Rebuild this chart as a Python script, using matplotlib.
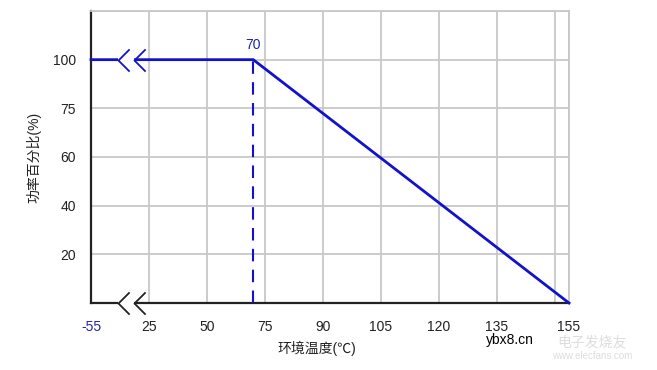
import numpy as np
import matplotlib
matplotlib.use('Agg')
import matplotlib.pyplot as plt
import matplotlib.transforms as mtrans
from matplotlib.path import Path

plt.rcParams['font.family'] = ['Liberation Sans', 'Noto Sans CJK SC', 'DejaVu Sans']

# derating curve
temp = [-55, 70, 155]
power = [100, 100, 0]
knee_temp = 70

# axis tick values (the chart uses an uneven, piecewise scale)
x_ticks = [-55, 25, 50, 75, 90, 105, 120, 135, 150, 155]
x_labels = ['-55', '25', '50', '75', '90', '105', '120', '135', '', '155']
x_pos = [0, 1, 2, 3, 4, 5, 6, 7, 8, 8.25]
y_ticks = [0, 20, 40, 60, 75, 100, 125]
y_labels = ['', '20', '40', '60', '75', '100', '']
y_pos = [0, 1, 2, 3, 4, 5, 6]

blue = '#1212CC'
grid_c = '#C8C8C8'

fig = plt.figure(figsize=(6.57, 3.70), dpi=100)
ax = fig.add_axes([91/657, 1-303/370, 478/657, 292/370])

ax.set_xscale('function', functions=(lambda v: np.interp(v, x_ticks, x_pos),
                                     lambda p: np.interp(p, x_pos, x_ticks)))
ax.set_yscale('function', functions=(lambda v: np.interp(v, y_ticks, y_pos),
                                     lambda p: np.interp(p, y_pos, y_ticks)))
ax.set_xlim(x_ticks[0], x_ticks[-1])
ax.set_ylim(y_ticks[0], y_ticks[-1])

ax.set_xticks(x_ticks)
ax.set_xticklabels(x_labels)
ax.set_yticks(y_ticks)
ax.set_yticklabels(y_labels)
ax.tick_params(length=0, labelsize=10, colors='#222222', pad=12)
ax.tick_params(axis='y', pad=11)
ax.xaxis.get_ticklabels()[0].set_color('#2222AA')
ax.grid(True, color=grid_c, lw=1.3)
ax.set_axisbelow(True)

for s in ['top', 'right']:
    ax.spines[s].set_color(grid_c)
    ax.spines[s].set_linewidth(1.3)
for s in ['left', 'bottom']:
    ax.spines[s].set_color('#222222')
    ax.spines[s].set_linewidth(1.6)

ax.plot(temp, power, color=blue, lw=2.0, solid_joinstyle='miter', clip_on=False, zorder=3)
ax.plot([knee_temp, knee_temp], [0, power[1]], color=blue, lw=1.5,
        dashes=(6, 4), zorder=3)
ax.text(knee_temp, 104, str(knee_temp), color='#2222AA', fontsize=10,
        ha='center', va='bottom')

# axis break marks "<<"
bt = mtrans.blended_transform_factory(ax.transAxes, ax.transData)
chev = Path([(1, 1), (0, 0), (1, -1)], [Path.MOVETO, Path.LINETO, Path.LINETO])
for yb, col in [(power[0], blue), (0, '#222222')]:
    ax.plot([0.057, 0.09], [yb, yb], color='white', lw=4, transform=bt,
            clip_on=False, zorder=4, solid_capstyle='butt')
    ax.plot([0.057, 0.09], [yb, yb], ls='none', marker=chev, ms=16,
            mec=col, mfc='none', mew=1.3, transform=bt, clip_on=False, zorder=5)

ax.set_ylabel('功率百分比(%)', fontsize=10, color='#222222', labelpad=8)
ax.set_xlabel('环境温度(℃)', fontsize=10, color='#222222', labelpad=4)
ax.xaxis.set_label_coords(0.473, -0.13)

fig.text(510/657, 1-340/370, 'ybx8.cn', fontsize=10, color='black',
         ha='center', va='center')
fig.text(592/657, 1-342/370, '电子发烧友', fontsize=10, color='#DDDDDD',
         ha='center', va='center')
fig.text(592/657, 1-356/370, 'www.elecfans.com', fontsize=7, color='#DDDDDD',
         ha='center', va='center')

fig.savefig('out.png', dpi=100)
